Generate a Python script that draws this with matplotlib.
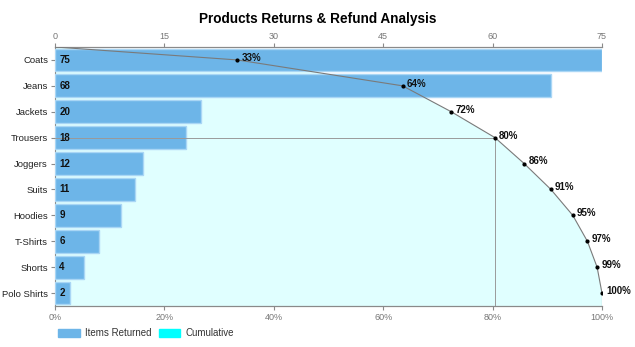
import numpy as np
import matplotlib.pyplot as plt
from matplotlib.patches import Patch

plt.rcParams['font.family'] = ['Liberation Sans', 'DejaVu Sans']

categories = ['Coats', 'Jeans', 'Jackets', 'Trousers', 'Joggers', 'Suits',
              'Hoodies', 'T-Shirts', 'Shorts', 'Polo Shirts']
returned = [75, 68, 20, 18, 12, 11, 9, 6, 4, 2]
count_ticks = [0, 15, 30, 45, 60, 75]
pct_ticks = [0, 20, 40, 60, 80, 100]

BAR_COLOR = '#6db5e8'
BAR_EDGE = '#a9d6f5'
FILL_COLOR = '#e0ffff'
AXIS_GREY = '#8a8a8a'

returned = np.array(returned)
cum_pct = np.cumsum(returned) / returned.sum() * 100
ypos = np.arange(len(categories))

fig = plt.figure(figsize=(6.35, 3.47), dpi=100)
# bottom axis: cumulative percentage, holds the shaded area
ax_pct = fig.add_axes([0.0866, 0.118, 0.8614, 0.7466])
# top axis: item counts, holds the bars
ax = ax_pct.twiny()
ax_pct.set_zorder(0)
ax.set_zorder(1)
ax.patch.set_visible(False)

ax_pct.set_xlim(0, 100)
ax.set_xlim(0, 75)

# cumulative curve starts at the top-left corner
curve_x = np.concatenate([[0], cum_pct])
curve_y = np.concatenate([[-0.5], ypos])
fill_x = np.concatenate([curve_x, [cum_pct[-1], 0]])
fill_y = np.concatenate([curve_y, [len(categories) - 0.5, len(categories) - 0.5]])
ax_pct.fill(fill_x, fill_y, color=FILL_COLOR, lw=0, zorder=1)

ax.barh(ypos, returned, height=0.88, color=BAR_COLOR, edgecolor=BAR_EDGE,
        linewidth=1, zorder=2)
for y, v in zip(ypos, returned):
    ax.annotate(str(v), (0, y), xytext=(3, 0), textcoords='offset points',
                va='center', ha='left', fontsize=7, fontweight='bold',
                color='#111111', zorder=5)

# line and markers drawn above the bars, in percentage coordinates
tr = ax_pct.transData
ax.plot(curve_x, curve_y, color='#7a7a7a', lw=0.8, transform=tr, zorder=3)
ax.plot([cum_pct[-1], cum_pct[-1]], [ypos[-1], len(categories) - 0.5],
        color='#7a7a7a', lw=0.8, transform=tr, zorder=3)
ax.plot(cum_pct, ypos, 'o', color='black', ms=2, transform=tr, zorder=4)
for x, y in zip(cum_pct, ypos):
    ax.annotate('{:.0f}%'.format(x), (x, y), xycoords=tr, xytext=(3, 1.5),
                textcoords='offset points', va='center', ha='left',
                fontsize=7, fontweight='bold', color='#111111', zorder=5)

# 80% reference lines
i80 = int(np.argmax(cum_pct >= 80))
ax.plot([0, cum_pct[i80]], [ypos[i80], ypos[i80]], color='#9a9a9a', lw=0.7,
        transform=tr, zorder=3)
ax.plot([cum_pct[i80], cum_pct[i80]], [ypos[i80], len(categories) - 0.5],
        color='#9a9a9a', lw=0.7, transform=tr, zorder=3)
ax_pct.set_ylim(len(categories) - 0.5, -0.5)

ax_pct.set_yticks(ypos)
ax_pct.set_yticklabels(categories)
ax_pct.tick_params(axis='y', labelsize=6.8, length=3, color=AXIS_GREY,
                   labelcolor='#222222', pad=2)

ax_pct.set_xticks(pct_ticks)
ax_pct.set_xticklabels(['{}%'.format(t) for t in pct_ticks])
ax_pct.tick_params(axis='x', labelsize=6.5, length=3, color=AXIS_GREY,
                   labelcolor='#777777', pad=2)
ax.set_xticks(count_ticks)
ax.tick_params(axis='x', labelsize=6.5, length=3, color=AXIS_GREY,
               labelcolor='#777777', pad=1)

for a in (ax, ax_pct):
    a.spines['right'].set_visible(False)
    for s in ('top', 'bottom', 'left'):
        a.spines[s].set_color(AXIS_GREY)
ax.spines['left'].set_visible(False)

fig.suptitle('Products Returns & Refund Analysis', x=0.5, y=0.965,
             fontsize=9.8, fontweight='bold')

handles = [Patch(color=BAR_COLOR), Patch(color='#00ffff')]
fig.legend(handles, ['Items Returned', 'Cumulative'], loc='lower left',
           bbox_to_anchor=(0.078, 0.0), ncol=2, frameon=False, fontsize=7,
           handlelength=2.2, handleheight=0.9, handletextpad=0.5,
           columnspacing=0.8, labelcolor='#333333')

fig.savefig('out.png', dpi=100)
